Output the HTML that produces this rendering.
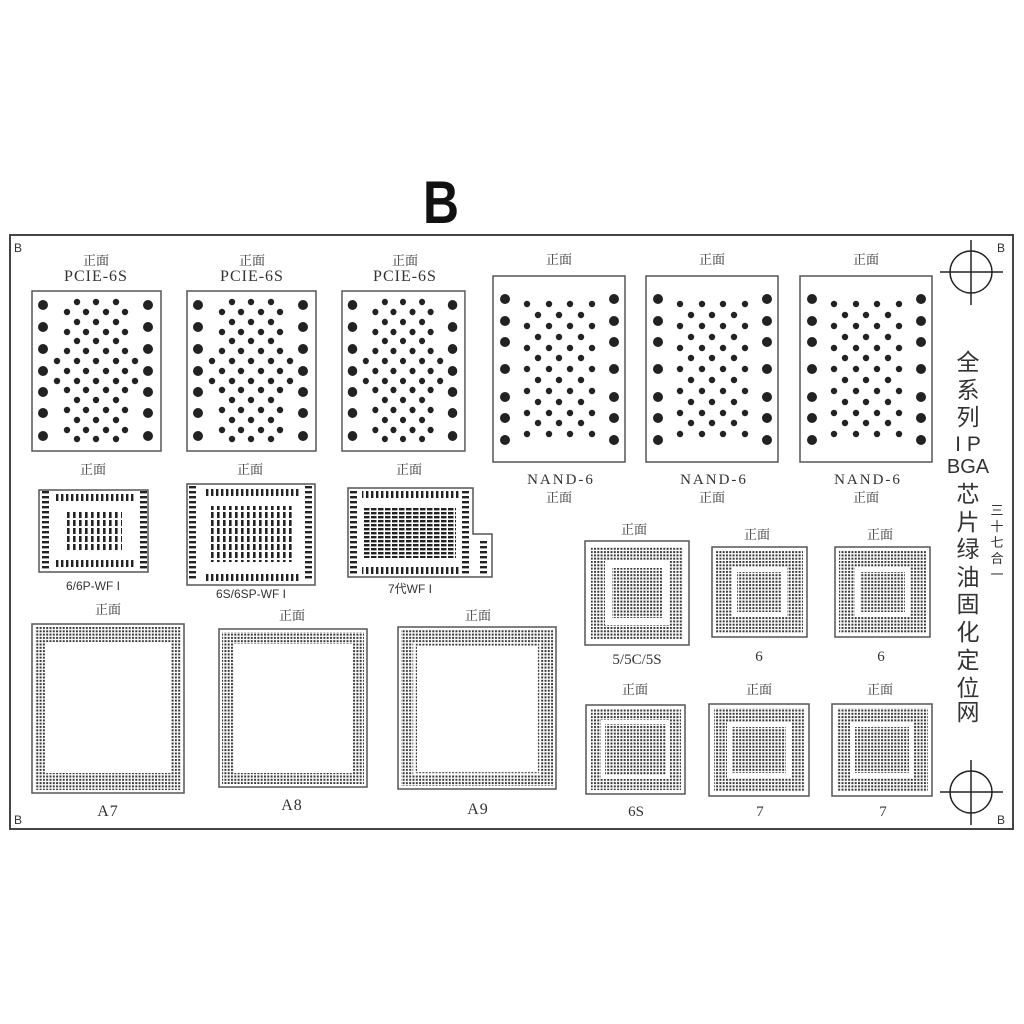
<!DOCTYPE html>
<html><head><meta charset="utf-8"><style>
html,body{margin:0;padding:0;background:#fff;}
svg{display:block}
.cn{font-family:"Noto Serif CJK SC","WenQuanYi Zen Hei",serif;fill:#333;}
.cs{font-family:"Noto Sans CJK SC","WenQuanYi Zen Hei",sans-serif;fill:#333;}
.sf{font-family:"Liberation Serif",serif;fill:#333;}
.ss{font-family:"Liberation Sans",sans-serif;fill:#333;}
</style></head><body>
<svg width="1024" height="1024" viewBox="0 0 1024 1024" xmlns="http://www.w3.org/2000/svg">
<defs>
<pattern id="dot" width="3.3" height="3.3" patternUnits="userSpaceOnUse"><rect width="2" height="2" fill="#3a3a3a"/></pattern>
<pattern id="vd" width="5" height="7" patternUnits="userSpaceOnUse"><rect x="1" width="2.4" height="7" fill="#222"/></pattern>
<pattern id="hd" width="7" height="5" patternUnits="userSpaceOnUse"><rect y="1" width="7" height="2.4" fill="#222"/></pattern>
<pattern id="vb" width="6" height="8" patternUnits="userSpaceOnUse"><rect x="1" width="2.6" height="6" fill="#222"/></pattern>
<pattern id="hb" width="7" height="4" patternUnits="userSpaceOnUse"><rect width="5.5" height="2.4" fill="#222"/></pattern>
<g id="pcie" fill="#222">
<rect x="0" y="0" width="129" height="160" fill="#fff" stroke="#555" stroke-width="1.5"/>
<g>
<circle cx="11" cy="14" r="5"/><circle cx="11" cy="36" r="5"/><circle cx="11" cy="58" r="5"/><circle cx="11" cy="80" r="5"/><circle cx="11" cy="101" r="5"/><circle cx="11" cy="122" r="5"/><circle cx="11" cy="145" r="5"/>
<circle cx="116" cy="14" r="5"/><circle cx="116" cy="36" r="5"/><circle cx="116" cy="58" r="5"/><circle cx="116" cy="80" r="5"/><circle cx="116" cy="101" r="5"/><circle cx="116" cy="122" r="5"/><circle cx="116" cy="145" r="5"/>
</g>
<g id="r3"><circle cx="45" cy="11" r="3.2"/><circle cx="64" cy="11" r="3.2"/><circle cx="84" cy="11" r="3.2"/></g>
<g id="r4"><circle cx="35" cy="21" r="3.2"/><circle cx="54" cy="21" r="3.2"/><circle cx="74" cy="21" r="3.2"/><circle cx="93" cy="21" r="3.2"/></g>
<use href="#r3" y="20"/><use href="#r4" y="20"/>
<use href="#r3" y="39"/><use href="#r4" y="39"/>
<g id="r5"><circle cx="25" cy="70" r="3.2"/><circle cx="45" cy="70" r="3.2"/><circle cx="64" cy="70" r="3.2"/><circle cx="84" cy="70" r="3.2"/><circle cx="103" cy="70" r="3.2"/></g>
<use href="#r4" y="59"/><use href="#r5" y="20"/><use href="#r4" y="78"/>
<use href="#r3" y="98"/><use href="#r4" y="98"/><use href="#r3" y="118"/><use href="#r4" y="118"/><use href="#r3" y="137"/>
</g>
<g id="nand" fill="#222">
<rect x="0" y="0" width="132" height="186" fill="#fff" stroke="#555" stroke-width="1.5"/>
<circle cx="12" cy="23" r="5"/><circle cx="12" cy="45" r="5"/><circle cx="12" cy="66" r="5"/><circle cx="12" cy="93" r="5"/><circle cx="12" cy="121" r="5"/><circle cx="12" cy="142" r="5"/><circle cx="12" cy="164" r="5"/>
<circle cx="121" cy="23" r="5"/><circle cx="121" cy="45" r="5"/><circle cx="121" cy="66" r="5"/><circle cx="121" cy="93" r="5"/><circle cx="121" cy="121" r="5"/><circle cx="121" cy="142" r="5"/><circle cx="121" cy="164" r="5"/>
<g id="n4"><circle cx="34" cy="28" r="3.2"/><circle cx="56" cy="28" r="3.2"/><circle cx="77" cy="28" r="3.2"/><circle cx="99" cy="28" r="3.2"/></g>
<g id="n3"><circle cx="45" cy="39" r="3.2"/><circle cx="66" cy="39" r="3.2"/><circle cx="88" cy="39" r="3.2"/></g>
<use href="#n4" y="22"/><use href="#n3" y="22"/><use href="#n4" y="44"/><use href="#n3" y="43"/>
<use href="#n4" y="65"/><use href="#n3" y="65"/><use href="#n4" y="87"/><use href="#n3" y="87"/>
<use href="#n4" y="109"/><use href="#n3" y="108"/><use href="#n4" y="130"/>
</g>
</defs>

<text x="423" y="223" class="ss" font-size="60" font-weight="bold" textLength="36" lengthAdjust="spacingAndGlyphs" style="fill:#111">B</text>

<rect x="10" y="235" width="1003" height="594" fill="none" stroke="#444" stroke-width="2"/>
<text x="14" y="252" class="ss" font-size="12">B</text>
<text x="997" y="252" class="ss" font-size="12">B</text>
<text x="14" y="824" class="ss" font-size="12">B</text>
<text x="997" y="824" class="ss" font-size="12">B</text>

<g stroke="#222" stroke-width="1.5" fill="none">
<circle cx="971" cy="272" r="21"/><line x1="940" y1="272" x2="1003" y2="272"/><line x1="971" y1="240" x2="971" y2="305"/>
<circle cx="971" cy="792" r="21"/><line x1="940" y1="792" x2="1003" y2="792"/><line x1="971" y1="760" x2="971" y2="825"/>
</g>

<text x="96" y="265" class="cn" font-size="13" text-anchor="middle">正面</text>
<text x="96" y="281" class="sf" font-size="16" text-anchor="middle" letter-spacing="1">PCIE-6S</text>
<text x="252" y="265" class="cn" font-size="13" text-anchor="middle">正面</text>
<text x="252" y="281" class="sf" font-size="16" text-anchor="middle" letter-spacing="1">PCIE-6S</text>
<text x="405" y="265" class="cn" font-size="13" text-anchor="middle">正面</text>
<text x="405" y="281" class="sf" font-size="16" text-anchor="middle" letter-spacing="1">PCIE-6S</text>
<use href="#pcie" transform="translate(32,291)"/>
<use href="#pcie" transform="translate(187,291)"/>
<use href="#pcie" transform="translate(342,291) scale(0.953,1)"/>

<text x="559" y="264" class="cn" font-size="13" text-anchor="middle">正面</text>
<text x="712" y="264" class="cn" font-size="13" text-anchor="middle">正面</text>
<text x="866" y="264" class="cn" font-size="13" text-anchor="middle">正面</text>
<use href="#nand" transform="translate(493,276)"/>
<use href="#nand" transform="translate(646,276)"/>
<use href="#nand" transform="translate(800,276)"/>
<text x="561" y="484" class="sf" font-size="15" text-anchor="middle" letter-spacing="2">NAND-6</text>
<text x="714" y="484" class="sf" font-size="15" text-anchor="middle" letter-spacing="2">NAND-6</text>
<text x="868" y="484" class="sf" font-size="15" text-anchor="middle" letter-spacing="2">NAND-6</text>
<text x="559" y="502" class="cn" font-size="13" text-anchor="middle">正面</text>
<text x="712" y="502" class="cn" font-size="13" text-anchor="middle">正面</text>
<text x="866" y="502" class="cn" font-size="13" text-anchor="middle">正面</text>

<text x="93" y="474" class="cn" font-size="13" text-anchor="middle">正面</text>
<text x="250" y="474" class="cn" font-size="13" text-anchor="middle">正面</text>
<text x="409" y="474" class="cn" font-size="13" text-anchor="middle">正面</text>

<rect x="39" y="490" width="109" height="82" fill="#fff" stroke="#555" stroke-width="1.5"/>
<rect x="56" y="494" width="80" height="7" fill="url(#vd)"/>
<rect x="56" y="560" width="80" height="7" fill="url(#vd)"/>
<rect x="42" y="490" width="7" height="80" fill="url(#hd)"/>
<rect x="140" y="490" width="7" height="80" fill="url(#hd)"/>
<rect x="66" y="512" width="56" height="38" fill="url(#vb)"/>
<text x="93" y="590" class="ss" font-size="12" text-anchor="middle">6/6P-WF I</text>

<rect x="187" y="484" width="128" height="101" fill="#fff" stroke="#555" stroke-width="1.5"/>
<rect x="206" y="489" width="95" height="7" fill="url(#vd)"/>
<rect x="206" y="574" width="95" height="7" fill="url(#vd)"/>
<rect x="189" y="485" width="7" height="95" fill="url(#hd)"/>
<rect x="305" y="485" width="7" height="95" fill="url(#hd)"/>
<rect x="210" y="506" width="83" height="56" fill="url(#vb)"/>
<text x="251" y="598" class="ss" font-size="12" text-anchor="middle">6S/6SP-WF I</text>

<polygon points="348,488 473,488 473,534 492,534 492,577 348,577" fill="#fff" stroke="#555" stroke-width="1.5"/>
<rect x="362" y="491" width="97" height="7" fill="url(#vd)"/>
<rect x="362" y="567" width="97" height="7" fill="url(#vd)"/>
<rect x="350" y="490" width="7" height="85" fill="url(#hd)"/>
<rect x="462" y="490" width="7" height="85" fill="url(#hd)"/>
<rect x="480" y="540" width="7" height="35" fill="url(#hd)"/>
<rect x="364" y="508" width="92" height="50" fill="url(#hb)"/>
<text x="410" y="593" class="ss" font-size="12" text-anchor="middle">7代WF I</text>

<text x="108" y="614" class="cn" font-size="13" text-anchor="middle">正面</text>
<text x="292" y="620" class="cn" font-size="13" text-anchor="middle">正面</text>
<text x="478" y="620" class="cn" font-size="13" text-anchor="middle">正面</text>

<rect x="32" y="624" width="152" height="169" fill="#fff" stroke="#555" stroke-width="1.5"/>
<rect x="35" y="627" width="146" height="163" fill="url(#dot)"/>
<rect x="45" y="642" width="126" height="131" fill="#fff"/>
<text x="108" y="816" class="sf" font-size="16" text-anchor="middle" letter-spacing="1">A7</text>

<rect x="219" y="629" width="148" height="158" fill="#fff" stroke="#555" stroke-width="1.5"/>
<rect x="222" y="632" width="142" height="152" fill="url(#dot)"/>
<rect x="234" y="644" width="118" height="129" fill="#fff"/>
<text x="292" y="810" class="sf" font-size="16" text-anchor="middle" letter-spacing="1">A8</text>

<rect x="398" y="627" width="158" height="162" fill="#fff" stroke="#555" stroke-width="1.5"/>
<rect x="401" y="630" width="152" height="156" fill="url(#dot)"/>
<rect x="414" y="643" width="126" height="131" fill="none" stroke="#fff" stroke-width="1.5"/>
<rect x="417" y="646" width="120" height="125" fill="#fff"/>
<text x="478" y="814" class="sf" font-size="16" text-anchor="middle" letter-spacing="1">A9</text>

<text x="634" y="534" class="cn" font-size="13" text-anchor="middle">正面</text>
<text x="757" y="539" class="cn" font-size="13" text-anchor="middle">正面</text>
<text x="880" y="539" class="cn" font-size="13" text-anchor="middle">正面</text>

<rect x="585" y="541" width="104" height="104" fill="#fff" stroke="#555" stroke-width="1.5"/>
<rect x="591" y="547" width="92" height="92" fill="url(#dot)"/>
<rect x="608.5" y="564.5" width="57" height="57" fill="none" stroke="#fff" stroke-width="7"/>
<text x="637" y="664" class="sf" font-size="15" text-anchor="middle">5/5C/5S</text>

<rect x="712" y="547" width="95" height="90" fill="#fff" stroke="#555" stroke-width="1.5"/>
<rect x="716" y="551" width="87" height="82" fill="url(#dot)"/>
<rect x="734.5" y="569.5" width="50" height="45" fill="none" stroke="#fff" stroke-width="5"/>
<text x="759" y="661" class="sf" font-size="15" text-anchor="middle">6</text>

<rect x="835" y="547" width="95" height="90" fill="#fff" stroke="#555" stroke-width="1.5"/>
<rect x="839" y="551" width="87" height="82" fill="url(#dot)"/>
<rect x="857.5" y="569.5" width="50" height="45" fill="none" stroke="#fff" stroke-width="5"/>
<text x="881" y="661" class="sf" font-size="15" text-anchor="middle">6</text>

<text x="635" y="694" class="cn" font-size="13" text-anchor="middle">正面</text>
<text x="759" y="694" class="cn" font-size="13" text-anchor="middle">正面</text>
<text x="880" y="694" class="cn" font-size="13" text-anchor="middle">正面</text>

<rect x="586" y="705" width="99" height="89" fill="#fff" stroke="#555" stroke-width="1.5"/>
<rect x="591" y="709" width="90" height="81" fill="url(#dot)"/>
<rect x="603" y="722" width="65" height="55" fill="none" stroke="#fff" stroke-width="4"/>
<text x="636" y="816" class="sf" font-size="15" text-anchor="middle">6S</text>

<rect x="709" y="704" width="100" height="92" fill="#fff" stroke="#555" stroke-width="1.5"/>
<rect x="714" y="708" width="91" height="84" fill="url(#dot)"/>
<rect x="729.5" y="724.5" width="59" height="51" fill="none" stroke="#fff" stroke-width="5"/>
<text x="760" y="816" class="sf" font-size="15" text-anchor="middle">7</text>

<rect x="832" y="704" width="100" height="92" fill="#fff" stroke="#555" stroke-width="1.5"/>
<rect x="837" y="708" width="91" height="84" fill="url(#dot)"/>
<rect x="852.5" y="724.5" width="59" height="51" fill="none" stroke="#fff" stroke-width="5"/>
<text x="883" y="816" class="sf" font-size="15" text-anchor="middle">7</text>

<g class="cs" font-size="23" text-anchor="middle">
<text x="968" y="370">全</text>
<text x="968" y="398">系</text>
<text x="968" y="425">列</text>
</g>
<text x="968" y="451" class="ss" font-size="21" text-anchor="middle">I P</text>
<text x="968" y="473" class="ss" font-size="20" text-anchor="middle">BGA</text>
<g class="cs" font-size="23" text-anchor="middle">
<text x="968" y="502">芯</text>
<text x="968" y="530">片</text>
<text x="968" y="557">绿</text>
<text x="968" y="585">油</text>
<text x="968" y="612">固</text>
<text x="968" y="640">化</text>
<text x="968" y="668">定</text>
<text x="968" y="696">位</text>
<text x="968" y="720">网</text>
</g>
<g class="cs" font-size="13" text-anchor="middle">
<text x="997" y="515">三</text>
<text x="997" y="531">十</text>
<text x="997" y="547">七</text>
<text x="997" y="563">合</text>
<text x="997" y="579">一</text>
</g>
</svg>
</body></html>
